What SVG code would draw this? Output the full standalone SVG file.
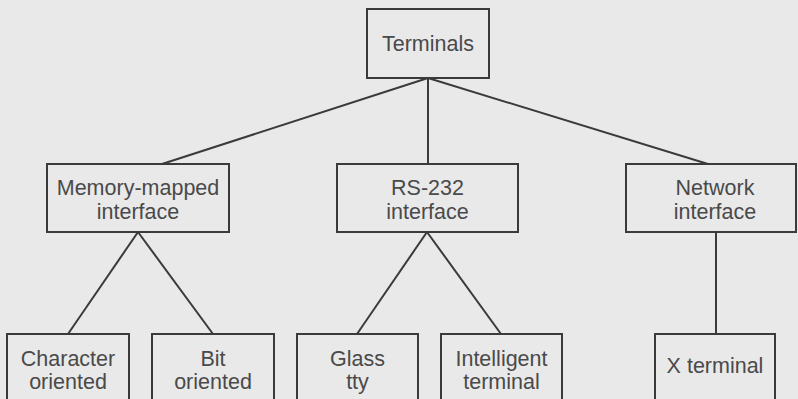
<svg xmlns="http://www.w3.org/2000/svg" width="798" height="399" viewBox="0 0 798 399">
<style>
.box{fill:none;stroke:#3a3a3a;stroke-width:2}
.t{font-family:"Liberation Sans",Arial,sans-serif;font-size:21.5px;fill:#4a4a4a;text-anchor:middle}
.c{stroke:#3a3a3a;stroke-width:2;fill:none}
</style>
<rect x="0" y="0" width="798" height="399" fill="#e9e9e9"/>
<g id="connectors">
<line class="c" x1="428" y1="78" x2="162" y2="164"/>
<line class="c" x1="428" y1="78" x2="428" y2="164"/>
<line class="c" x1="428" y1="78" x2="708" y2="164"/>
<line class="c" x1="138" y1="232" x2="68" y2="334"/>
<line class="c" x1="138" y1="232" x2="213" y2="334"/>
<line class="c" x1="427" y1="232" x2="357" y2="334"/>
<line class="c" x1="427" y1="232" x2="501" y2="334"/>
<line class="c" x1="716" y1="232" x2="716" y2="334"/>
</g>
<g id="terminals"><rect class="box" x="367" y="9" width="122" height="69"/><text class="t" x="428" y="51">Terminals</text></g>
<g id="memory"><rect class="box" x="47" y="164" width="182" height="68"/><text class="t" x="138" y="195">Memory-mapped</text><text class="t" x="138" y="219">interface</text></g>
<g id="rs232"><rect class="box" x="337" y="164" width="181" height="68"/><text class="t" x="427.5" y="195">RS-232</text><text class="t" x="427.5" y="219">interface</text></g>
<g id="network"><rect class="box" x="626" y="164" width="170" height="68"/><text class="t" x="715" y="195">Network</text><text class="t" x="715" y="219">interface</text></g>
<g id="character"><rect class="box" x="7" y="334" width="122" height="80"/><text class="t" x="68" y="366">Character</text><text class="t" x="68" y="389">oriented</text></g>
<g id="bit"><rect class="box" x="152" y="334" width="122" height="80"/><text class="t" x="213" y="366">Bit</text><text class="t" x="213" y="389">oriented</text></g>
<g id="glass"><rect class="box" x="297" y="334" width="121" height="80"/><text class="t" x="357.5" y="366">Glass</text><text class="t" x="357.5" y="389">tty</text></g>
<g id="intelligent"><rect class="box" x="441" y="334" width="121" height="80"/><text class="t" x="501.5" y="366">Intelligent</text><text class="t" x="501.5" y="389">terminal</text></g>
<g id="xterminal"><rect class="box" x="655" y="334" width="120" height="80"/><text class="t" x="715" y="373">X terminal</text></g>
</svg>
